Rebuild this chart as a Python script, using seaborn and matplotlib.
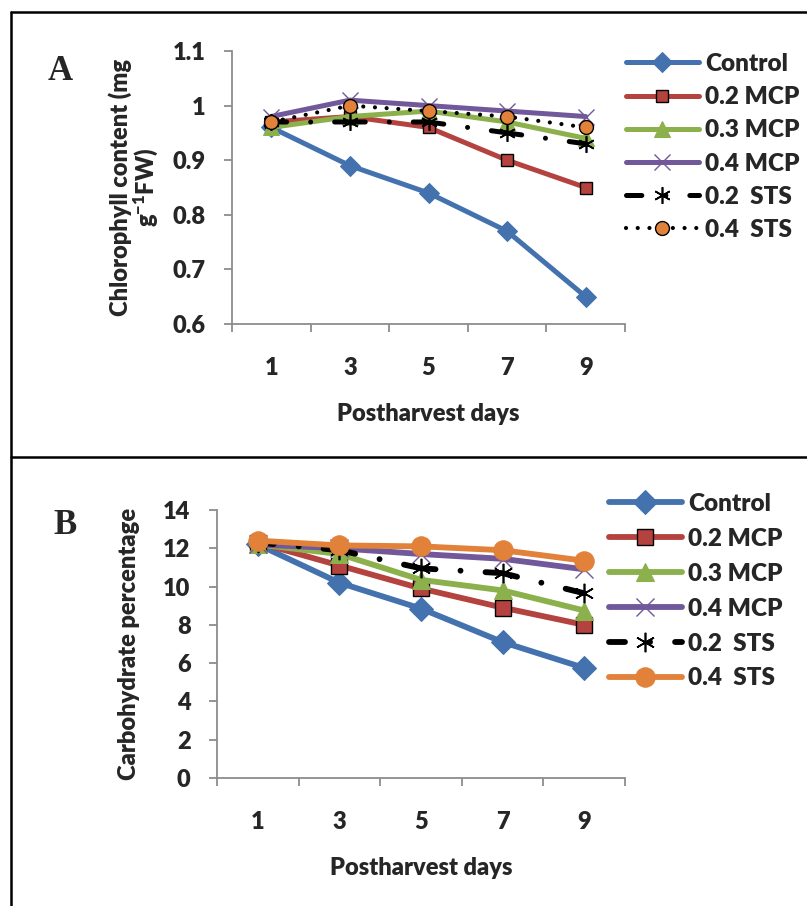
import numpy as np
import pandas as pd
import seaborn as sns
import matplotlib
matplotlib.use("Agg")
import matplotlib.pyplot as plt
from matplotlib.lines import Line2D

# ---- data ----
days = ["1", "3", "5", "7", "9"]
treatments = ["Control", "0.2 MCP", "0.3 MCP", "0.4 MCP", "0.2  STS", "0.4  STS"]

control_chl = [0.96, 0.89, 0.84, 0.77, 0.65]
mcp02_chl = [0.97, 0.98, 0.96, 0.90, 0.85]
mcp03_chl = [0.96, 0.98, 0.99, 0.97, 0.94]
mcp04_chl = [0.98, 1.01, 1.00, 0.99, 0.98]
sts02_chl = [0.97, 0.97, 0.97, 0.95, 0.93]
sts04_chl = [0.97, 1.00, 0.99, 0.98, 0.96]

control_carb = [12.2, 10.2, 8.85, 7.1, 5.75]
mcp02_carb = [12.3, 11.1, 9.9, 8.9, 8.0]
mcp03_carb = [12.2, 11.7, 10.35, 9.8, 8.75]
mcp04_carb = [12.2, 12.0, 11.7, 11.45, 10.9]
sts02_carb = [12.3, 11.9, 10.95, 10.7, 9.65]
sts04_carb = [12.4, 12.15, 12.1, 11.9, 11.35]

chl_ticks = [0.6, 0.7, 0.8, 0.9, 1.0, 1.1]
chl_ticklabels = ["0.6", "0.7", "0.8", "0.9", "1", "1.1"]
carb_ticks = [0, 2, 4, 6, 8, 10, 12, 14]

# ---- styling ----
sns.set_style("white")
WEIGHT = "heavy"
plt.rcParams["font.family"] = ["Lato", "DejaVu Sans"]
plt.rcParams["font.weight"] = WEIGHT
plt.rcParams["mathtext.fontset"] = "custom"
plt.rcParams["mathtext.rm"] = "Lato:" + WEIGHT
plt.rcParams["mathtext.default"] = "regular"

FS = 17
BLUE = "#4472AE"
RED = "#B4433F"
GREEN = "#8BB04C"
PURPLE = "#71589A"
ORANGE = "#E1813A"
AXGRAY = "#8C8C8C"
ASTERISK = (6, 2, 0)

W, H = 807, 906
fig = plt.figure(figsize=(W / 100, H / 100), dpi=100)


def frac_box(left, top, right, bottom):
    return [left / W, 1 - bottom / H, (right - left) / W, (bottom - top) / H]


def dashdot(lw_pts, period_px):
    # long dash, dot pattern; one period per category step
    unit = lw_pts * 100 / 72
    total = period_px / unit
    dash = total * 0.39
    gap = (total - dash) / 2
    return (dash / 2, (dash, gap, 0.01, gap))


def style_axes(ax, ylim, yticks, yticklabels, ylabel, label_pad):
    ax.set_xlim(-0.5, 4.5)
    ax.set_ylim(*ylim)
    ax.set_yticks(yticks)
    ax.set_yticklabels(yticklabels)
    ax.set_xticks(range(5))
    ax.set_xticklabels(days)
    ax.set_xticks(np.arange(-0.5, 5.0, 1.0), minor=True)
    for side in ["top", "right"]:
        ax.spines[side].set_visible(False)
    for side in ["left", "bottom"]:
        ax.spines[side].set_color(AXGRAY)
        ax.spines[side].set_linewidth(1.3)
    ax.tick_params(axis="x", which="major", bottom=True, length=0, pad=24,
                   labelsize=FS)
    ax.tick_params(axis="x", which="minor", bottom=True, length=6, width=1.3,
                   color=AXGRAY, direction="out")
    ax.tick_params(axis="y", which="major", left=True, length=6, width=1.3,
                   color=AXGRAY, direction="out", pad=13, labelsize=FS)
    for t in ax.get_xticklabels() + ax.get_yticklabels():
        t.set_fontweight(WEIGHT)
    ax.set_xlabel("Postharvest days", fontsize=FS, fontweight=WEIGHT, labelpad=17)
    ax.set_ylabel(ylabel, fontsize=FS, fontweight=WEIGHT, labelpad=label_pad,
                  linespacing=0.95)


def draw_series(ax, values, **kws):
    df = pd.DataFrame({"day": days, "value": values})
    sns.lineplot(data=df, x="day", y="value", ax=ax, sort=False, **kws)


# ---- panel A: chlorophyll ----
axA = fig.add_axes(frac_box(232, 51, 625, 324))
lwA = 3.6
draw_series(axA, control_chl, color=BLUE, lw=lwA, marker="D", ms=10,
            mec=BLUE, label=treatments[0])
draw_series(axA, mcp02_chl, color=RED, lw=lwA, marker="s", ms=9,
            mfc=RED, mec="black", mew=1.0, label=treatments[1])
draw_series(axA, mcp03_chl, color=GREEN, lw=lwA, marker="^", ms=11,
            mec=GREEN, label=treatments[2])
draw_series(axA, mcp04_chl, color=PURPLE, lw=lwA, marker="x", ms=12,
            mew=1.0, mec=PURPLE, label=treatments[3])
draw_series(axA, sts02_chl, color="black", lw=lwA, marker=ASTERISK, ms=12,
            mew=1.2, mec="black", linestyle=dashdot(lwA, 78.6),
            dash_capstyle="round", label=treatments[4])
draw_series(axA, sts04_chl, color="black", lw=3.0, marker="o", ms=10,
            mfc=ORANGE, mec="black", mew=1.0, linestyle=(0, (0.01, 2.8)),
            dash_capstyle="round", label=treatments[5])
style_axes(axA, (0.6, 1.1), chl_ticks, chl_ticklabels,
           "Chlorophyll content (mg\ng$^{-1}$FW)", 9)

# ---- panel B: carbohydrate ----
axB = fig.add_axes(frac_box(217, 510, 625, 778))
lwB = 4.2
draw_series(axB, control_carb, color=BLUE, lw=lwB, marker="D", ms=12,
            mec=BLUE, label=treatments[0])
draw_series(axB, mcp02_carb, color=RED, lw=lwB, marker="s", ms=11,
            mfc=RED, mec="black", mew=1.0, label=treatments[1])
draw_series(axB, mcp03_carb, color=GREEN, lw=lwB, marker="^", ms=13,
            mec=GREEN, label=treatments[2])
draw_series(axB, mcp04_carb, color=PURPLE, lw=lwB, marker="x", ms=13,
            mew=1.0, mec=PURPLE, label=treatments[3])
draw_series(axB, sts02_carb, color="black", lw=lwB, marker=ASTERISK, ms=14,
            mew=1.2, mec="black", linestyle=dashdot(lwB, 82),
            dash_capstyle="round", label=treatments[4])
draw_series(axB, sts04_carb, color=ORANGE, lw=lwB, marker="o", ms=14,
            mec=ORANGE, label=treatments[5])
style_axes(axB, (0, 14), carb_ticks, [str(v) for v in carb_ticks],
           "Carbohydrate percentage", 17)

# ---- legends placed to the right of each plot ----
for ax, (lx, ly), spacing in [(axA, (626, 53), 0.46), (axB, (609, 493), 0.53)]:
    handles, labels = ax.get_legend_handles_labels()
    ax.legend(handles, labels, loc="upper left",
              bbox_to_anchor=(lx / W, 1 - ly / H), bbox_transform=fig.transFigure,
              frameon=False, numpoints=1, handlelength=3.0, handletextpad=0.25,
              labelspacing=spacing, borderaxespad=0, borderpad=0,
              prop={"size": 17.5, "weight": WEIGHT})

# ---- panel letters ----
fig.text(60 / W, 1 - 71 / H, "A", family="Liberation Serif", weight="bold",
         fontsize=25, ha="center", va="center")
fig.text(65 / W, 1 - 526 / H, "B", family="Liberation Serif", weight="bold",
         fontsize=25, ha="center", va="center")

# ---- frame lines ----
for xs, ys in [([11, 11], [12, H]), ([11, W], [12, 12]), ([11, W], [457, 457])]:
    fig.add_artist(Line2D([x / W for x in xs], [1 - y / H for y in ys],
                          color="black", lw=1.8, transform=fig.transFigure))

fig.savefig("out.png", dpi=100)
